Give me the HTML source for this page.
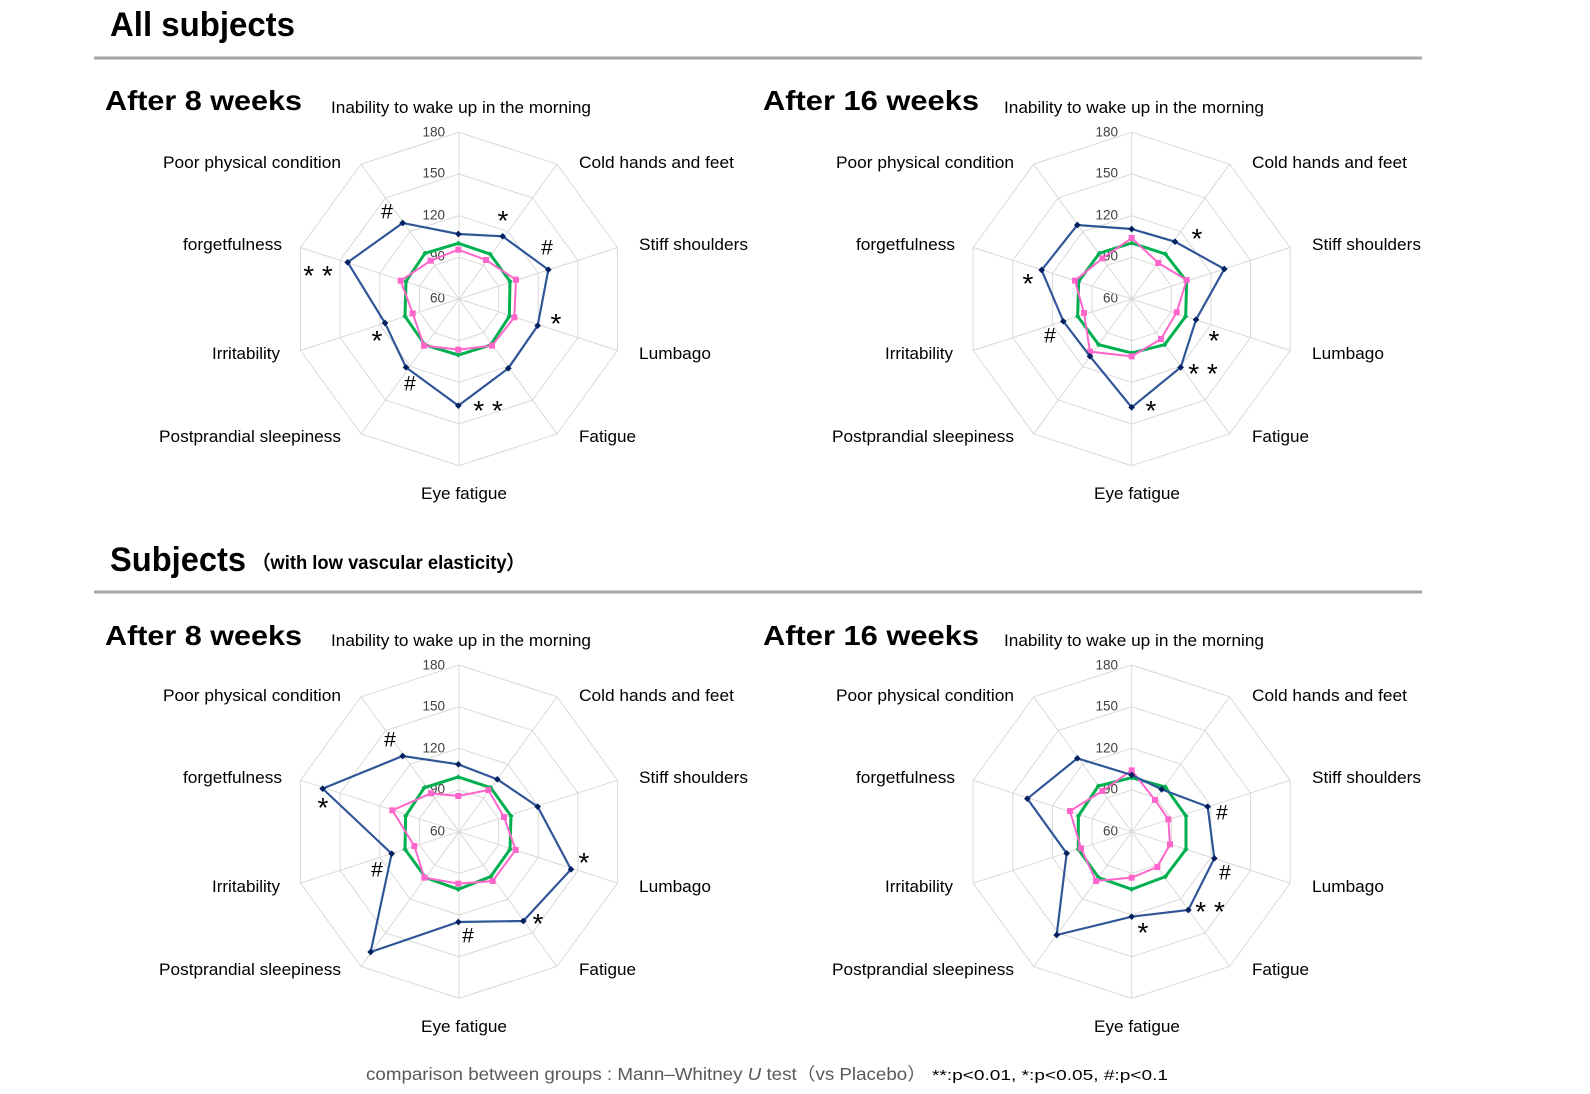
<!DOCTYPE html>
<html><head><meta charset="utf-8"><style>
html,body{margin:0;padding:0;background:#fff;}
svg{display:block;font-family:"Liberation Sans",Arial,sans-serif;}
.h1{font-weight:bold;font-size:34px;fill:#000;}
.h2{font-weight:bold;font-size:28px;fill:#000;}
.lab{font-size:16.5px;fill:#000;}
.tk{font-size:13.5px;fill:#404040;text-anchor:end;dominant-baseline:middle;}
.an{font-size:21px;fill:#000;text-anchor:middle;dominant-baseline:middle;}
.st{font-size:28px;fill:#000;text-anchor:middle;}
</style></head><body>
<svg width="1590" height="1094" viewBox="0 0 1590 1094" xmlns="http://www.w3.org/2000/svg">
<defs>
<g id="grid" fill="none" stroke="#d9d9d9" stroke-width="1">
 <polygon id="ring" vector-effect="non-scaling-stroke" points="0,-500 293.9,-404.5 475.5,-154.5 475.5,154.5 293.9,404.5 0,500 -293.9,404.5 -475.5,154.5 -475.5,-154.5 -293.9,-404.5"/>
 <use href="#ring" transform="scale(0.75)"/>
 <use href="#ring" transform="scale(0.5)"/>
 <use href="#ring" transform="scale(0.25)"/>
 <path vector-effect="non-scaling-stroke" d="M0,0L0,-500M0,0L293.9,-404.5M0,0L475.5,-154.5M0,0L475.5,154.5M0,0L293.9,404.5M0,0L0,500M0,0L-293.9,404.5M0,0L-475.5,154.5M0,0L-475.5,-154.5M0,0L-293.9,-404.5"/>
</g>
<marker id="mb" markerUnits="userSpaceOnUse" markerWidth="24" markerHeight="24" refX="12" refY="12" viewBox="0 0 24 24"><path d="M12,2L22,12L12,22L2,12Z" fill="#002060"/></marker>
<marker id="mg" markerUnits="userSpaceOnUse" markerWidth="18" markerHeight="18" refX="9" refY="9" viewBox="0 0 18 18"><path d="M9,1L17,9L9,17L1,9Z" fill="#00b050"/></marker>
<marker id="mp" markerUnits="userSpaceOnUse" markerWidth="20" markerHeight="20" refX="10" refY="10" viewBox="0 0 20 20"><rect x="1" y="1" width="18" height="18" fill="#ff66cc"/></marker>
</defs>
<g transform="translate(0,-1)">
<text class="h1" x="110" y="37" textLength="185" lengthAdjust="spacingAndGlyphs">All subjects</text>
<rect x="94" y="57.5" width="1328" height="3" fill="#a6a6a6"/>
<text class="h2" x="105" y="111" textLength="197" lengthAdjust="spacingAndGlyphs">After 8 weeks</text>
<text class="h2" x="763" y="111" textLength="216" lengthAdjust="spacingAndGlyphs">After 16 weeks</text>

<text class="h1" x="110" y="572" textLength="136" lengthAdjust="spacingAndGlyphs">Subjects</text>
<text x="252" y="570" style="font-weight:bold;font-size:19px" textLength="273" lengthAdjust="spacingAndGlyphs">（with low vascular elasticity）</text>
<rect x="94" y="591.5" width="1328" height="3" fill="#a6a6a6"/>
<text class="h2" x="105" y="646" textLength="197" lengthAdjust="spacingAndGlyphs">After 8 weeks</text>
<text class="h2" x="763" y="646" textLength="216" lengthAdjust="spacingAndGlyphs">After 16 weeks</text>

<g id="L1">
<text class="lab" x="331" y="114" textLength="260" lengthAdjust="spacingAndGlyphs">Inability to wake up in the morning</text>
<text class="lab" x="163" y="169" textLength="178" lengthAdjust="spacingAndGlyphs">Poor physical condition</text>
<text class="lab" x="579" y="169" textLength="155" lengthAdjust="spacingAndGlyphs">Cold hands and feet</text>
<text class="lab" x="183" y="251" textLength="99" lengthAdjust="spacingAndGlyphs">forgetfulness</text>
<text class="lab" x="639" y="251" textLength="109" lengthAdjust="spacingAndGlyphs">Stiff shoulders</text>
<text class="lab" x="212" y="360" textLength="68" lengthAdjust="spacingAndGlyphs">Irritability</text>
<text class="lab" x="639" y="360" textLength="72" lengthAdjust="spacingAndGlyphs">Lumbago</text>
<text class="lab" x="159" y="443" textLength="182" lengthAdjust="spacingAndGlyphs">Postprandial sleepiness</text>
<text class="lab" x="579" y="443" textLength="57" lengthAdjust="spacingAndGlyphs">Fatigue</text>
<text class="lab" x="421" y="500" textLength="86" lengthAdjust="spacingAndGlyphs">Eye fatigue</text>
<text class="tk" x="445" y="134">180</text>
<text class="tk" x="445" y="175">150</text>
<text class="tk" x="445" y="217">120</text>
<text class="tk" x="445" y="258">90</text>
<text class="tk" x="445" y="300">60</text>
</g>
<use href="#L1" transform="translate(673,0)"/>
<use href="#L1" transform="translate(0,533)"/>
<use href="#L1" transform="translate(673,533)"/>

<g transform="translate(280,120) scale(0.33333)">
 <use href="#grid" transform="translate(537,540)"/>
 <polygon fill="none" stroke="#00b050" stroke-width="9" marker-start="url(#mg)" marker-mid="url(#mg)" points="535,373 630,405 690,487 688,592 632,678 535,708 435,678 375,592 378,487 435,403"/>
 <polygon fill="none" stroke="#ff66cc" stroke-width="6" marker-start="url(#mp)" marker-mid="url(#mp)" points="535,392 618,423 708,482 703,595 636,680 535,692 432,680 398,583 362,485 452,425"/>
 <polygon fill="none" stroke="#2f5597" stroke-width="6.5" marker-start="url(#mb)" marker-mid="url(#mb)" points="535,345 668,352 805,452 773,620 685,748 535,860 378,745 315,612 203,430 368,312"/>
</g>
<g transform="translate(940,120) scale(0.33333)">
 <use href="#grid" transform="translate(575,540)"/>
 <polygon fill="none" stroke="#00b050" stroke-width="9" marker-start="url(#mg)" marker-mid="url(#mg)" points="575,372 676,405 740,487 737,592 674,677 575,702 476,677 413,592 416,487 478,403"/>
 <polygon fill="none" stroke="#ff66cc" stroke-width="6" marker-start="url(#mp)" marker-mid="url(#mp)" points="575,357 655,432 740,483 710,580 663,660 575,712 450,698 432,582 405,485 487,418"/>
 <polygon fill="none" stroke="#2f5597" stroke-width="6.5" marker-start="url(#mb)" marker-mid="url(#mb)" points="575,330 705,368 853,450 768,602 722,745 575,865 450,712 370,607 305,453 412,318"/>
</g>
<g transform="translate(280,657) scale(0.33333)">
 <use href="#grid" transform="translate(537,527)"/>
 <polygon fill="none" stroke="#00b050" stroke-width="9" marker-start="url(#mg)" marker-mid="url(#mg)" points="535,363 632,395 693,480 690,580 632,662 535,700 437,665 375,580 377,480 433,395"/>
 <polygon fill="none" stroke="#ff66cc" stroke-width="6" marker-start="url(#mp)" marker-mid="url(#mp)" points="535,420 625,402 672,483 707,582 638,675 535,683 433,665 403,570 337,463 453,412"/>
 <polygon fill="none" stroke="#2f5597" stroke-width="6.5" marker-start="url(#mb)" marker-mid="url(#mb)" points="535,325 652,370 773,452 873,640 730,795 535,798 272,888 335,593 128,398 368,300"/>
</g>
<g transform="translate(940,657) scale(0.33333)">
 <use href="#grid" transform="translate(575,527)"/>
 <polygon fill="none" stroke="#00b050" stroke-width="9" marker-start="url(#mg)" marker-mid="url(#mg)" points="575,365 676,393 738,480 738,580 676,662 575,700 476,665 415,580 415,480 475,390"/>
 <polygon fill="none" stroke="#ff66cc" stroke-width="6" marker-start="url(#mp)" marker-mid="url(#mp)" points="575,343 645,432 685,490 690,565 652,633 575,665 468,675 423,577 390,465 487,405"/>
 <polygon fill="none" stroke="#2f5597" stroke-width="6.5" marker-start="url(#mb)" marker-mid="url(#mb)" points="575,357 665,400 803,452 823,607 745,762 575,782 350,837 380,592 262,428 412,307"/>
</g>

<g>
<text class="an" x="387" y="214">#</text>
<text class="st" x="503" y="231">*</text>
<text class="an" x="547" y="250">#</text>
<text class="st" x="556" y="334">*</text>
<text class="st" x="488" y="421">* *</text>
<text class="an" x="410" y="386">#</text>
<text class="st" x="377" y="351">*</text>
<text class="st" x="318" y="286">* *</text>

<text class="st" x="1197" y="249">*</text>
<text class="st" x="1028" y="294">*</text>
<text class="an" x="1050" y="338">#</text>
<text class="st" x="1214" y="351">*</text>
<text class="st" x="1203" y="384">* *</text>
<text class="st" x="1151" y="421">*</text>

<text class="an" x="390" y="742">#</text>
<text class="st" x="323" y="818">*</text>
<text class="an" x="377" y="872">#</text>
<text class="st" x="584" y="873">*</text>
<text class="st" x="538" y="934">*</text>
<text class="an" x="468" y="938">#</text>

<text class="an" x="1222" y="815">#</text>
<text class="an" x="1225" y="875">#</text>
<text class="st" x="1210" y="922">* *</text>
<text class="st" x="1143" y="943">*</text>
</g>

<text x="366" y="1081" style="font-size:17.5px;fill:#595959" textLength="560" lengthAdjust="spacingAndGlyphs">comparison between groups : Mann–Whitney <tspan font-style="italic">U</tspan> test（vs Placebo）</text>
<text x="932" y="1081" style="font-size:15px;fill:#000" textLength="236" lengthAdjust="spacingAndGlyphs">**:p&lt;0.01, *:p&lt;0.05, #:p&lt;0.1</text>
</g>
</svg>
</body></html>
